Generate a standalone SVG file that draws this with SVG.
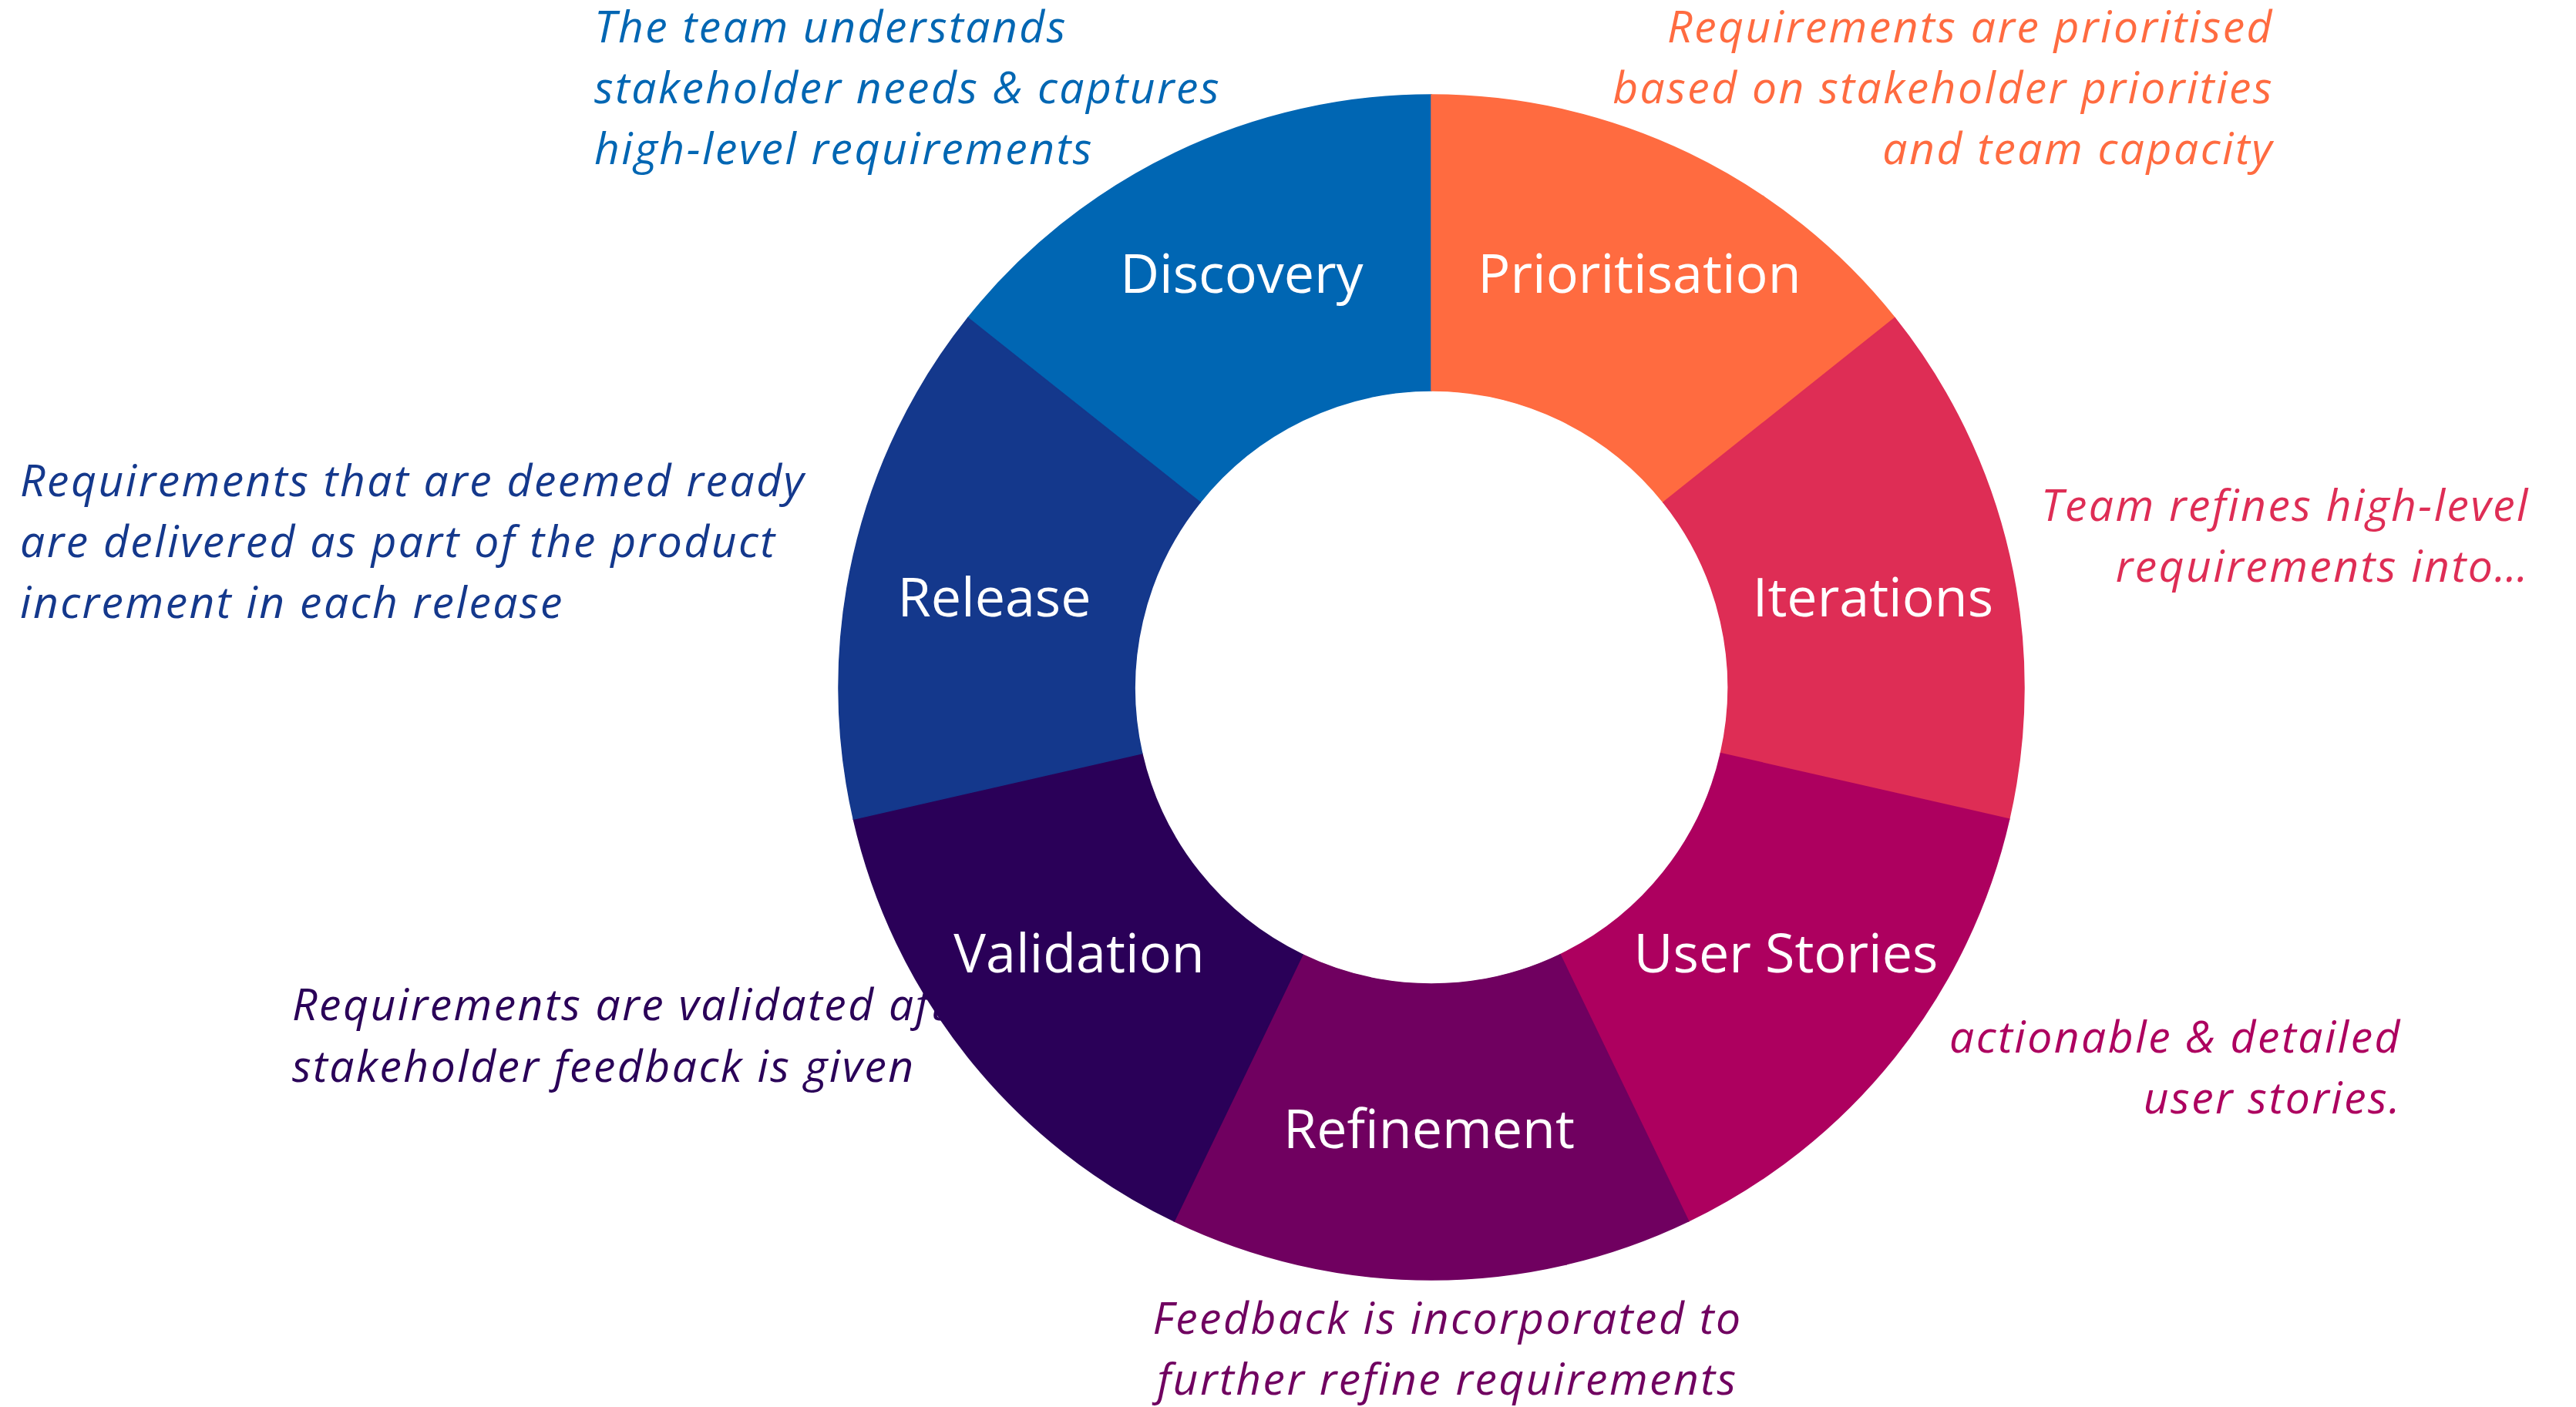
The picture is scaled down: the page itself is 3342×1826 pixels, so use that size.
<svg xmlns="http://www.w3.org/2000/svg" width="3342" height="1826" viewBox="0 0 3342 1826">
<style>
.desc{font-family:"Open Sans","Liberation Sans",sans-serif;font-style:italic;font-size:57px;letter-spacing:2.5px}
.lbl{font-family:"Open Sans","Liberation Sans",sans-serif;font-size:70px;fill:#ffffff;text-anchor:middle}
.seg{stroke-width:1.5}
</style>
<rect width="3342" height="1826" fill="#ffffff"/>
<g id="descriptions">
<text class="desc" fill="#0066b3" x="771"><tspan x="771" y="55">The team understands</tspan><tspan x="771" y="134">stakeholder needs &amp; captures</tspan><tspan x="771" y="213">high-level requirements</tspan></text>
<text class="desc" fill="#ff6b40" text-anchor="end"><tspan x="2950" y="55">Requirements are prioritised</tspan><tspan x="2950" y="134">based on stakeholder priorities</tspan><tspan x="2950" y="213">and team capacity</tspan></text>
<text class="desc" fill="#de2d55" text-anchor="end"><tspan x="3282" y="676">Team refines high-level</tspan><tspan x="3282" y="755">requirements into…</tspan></text>
<text class="desc" fill="#ad005f" text-anchor="end"><tspan x="3116" y="1366">actionable &amp; detailed</tspan><tspan x="3116" y="1445">user stories.</tspan></text>
<text class="desc" fill="#700060" text-anchor="middle"><tspan x="1878" y="1731">Feedback is incorporated to</tspan><tspan x="1878" y="1810">further refine requirements</tspan></text>
<text class="desc" fill="#2a0058"><tspan x="379" y="1324">Requirements are validated after</tspan><tspan x="379" y="1404">stakeholder feedback is given</tspan></text>
<text class="desc" fill="#14388c"><tspan x="26" y="644">Requirements that are deemed ready</tspan><tspan x="26" y="723">are delivered as part of the product</tspan><tspan x="26" y="802">increment in each release</tspan></text>
</g>
<g id="discovery">
<path class="seg" fill="#0066b3" stroke="#0066b3" d="M1255.77,412.54 A769,769 0 0 1 1857,123 L1857,507 A385,385 0 0 0 1557,651.96 Z"/>
<text class="lbl" x="1611" y="380">Discovery</text>
</g>
<g id="prioritisation">
<path class="seg" fill="#ff6b40" stroke="#ff6b40" d="M1857,123 A769,769 0 0 1 2458.23,412.54 L2158,651.96 A385,385 0 0 0 1857,507 Z"/>
<text class="lbl" x="2127" y="380">Prioritisation</text>
</g>
<g id="iterations">
<path class="seg" fill="#de2d55" stroke="#de2d55" d="M2458.23,412.54 A769,769 0 0 1 2606.72,1063.12 L2232.35,977.67 A385,385 0 0 0 2158,651.96 Z"/>
<text class="lbl" x="2430" y="800">Iterations</text>
</g>
<g id="user-stories">
<path class="seg" fill="#ad005f" stroke="#ad005f" d="M2606.72,1063.12 A769,769 0 0 1 2190.65,1584.85 L2024.04,1238.87 A385,385 0 0 0 2232.35,977.67 Z"/>
<text class="lbl" x="2317" y="1262">User Stories</text>
</g>
<g id="refinement">
<path class="seg" fill="#700060" stroke="#700060" d="M2190.65,1584.85 A769,769 0 0 1 1523.35,1584.85 L1689.96,1238.87 A385,385 0 0 0 2024.04,1238.87 Z"/>
<text class="lbl" x="1854" y="1490">Refinement</text>
</g>
<g id="validation">
<path class="seg" fill="#2a0058" stroke="#2a0058" d="M1523.35,1584.85 A769,769 0 0 1 1107.28,1063.12 L1481.65,977.67 A385,385 0 0 0 1689.96,1238.87 Z"/>
<text class="lbl" x="1400" y="1262">Validation</text>
</g>
<g id="release">
<path class="seg" fill="#14388c" stroke="#14388c" d="M1107.28,1063.12 A769,769 0 0 1 1255.77,412.54 L1557,651.96 A385,385 0 0 0 1481.65,977.67 Z"/>
<text class="lbl" x="1290" y="800">Release</text>
</g>
<g id="connectors"></g>
</svg>
